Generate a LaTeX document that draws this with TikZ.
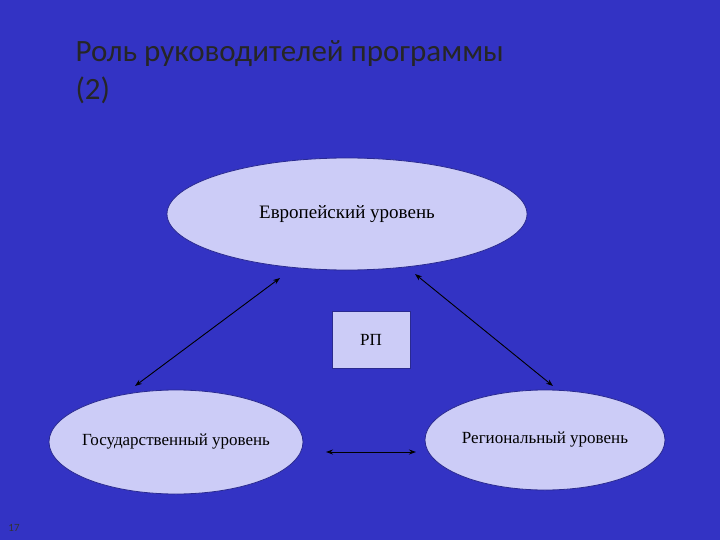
\documentclass[tikz,border=0pt]{standalone}
\usepackage{fontspec}
\setmainfont{Liberation Serif}
\newfontfamily\titlefont{Carlito}
\usetikzlibrary{shapes.geometric,arrows.meta}
\definecolor{bg}{HTML}{3333C4}
\definecolor{ell}{HTML}{CCCCF7}
\definecolor{ellline}{HTML}{2A2A90}
\tikzset{lvl/.style={ellipse,fill=ell,draw=ellline,line width=0.8pt,inner sep=0pt},
 conn/.style={{Stealth[length=7pt,width=5pt]}-{Stealth[length=7pt,width=5pt]},line width=0.9pt,black}}
\begin{document}
\begin{tikzpicture}[x=1pt,y=-1pt]
\fill[bg] (0,0) rectangle (720,540);
\useasboundingbox (0,0) rectangle (720,540);
\node[anchor=west,font=\titlefont\fontsize{31}{38}\selectfont,text=black!85,align=left] (title) at (72,72) {Роль руководителей программы\\(2)};
\node[lvl,minimum width=360pt,minimum height=112pt,font=\fontsize{19}{22}\selectfont] (eu) at (347,214) {Европейский уровень};
\node[lvl,minimum width=254pt,minimum height=104pt,font=\fontsize{17}{20}\selectfont] (st) at (176,442) {};
\node[font=\fontsize{17}{20}\selectfont] (stt) at (176,442) {Государственный уровень};
\node[lvl,minimum width=240pt,minimum height=100pt,font=\fontsize{17}{20}\selectfont] (rg) at (545,440) {};
\node[font=\fontsize{17}{20}\selectfont] (rgt) at (545,440) {Региональный уровень};
\node[fill=ell,draw=ellline,minimum width=78pt,minimum height=57pt,font=\fontsize{17}{20}\selectfont] (rp) at (371,340) {РП};
\coordinate (a1) at (280,278); \coordinate (a2) at (135,386);
\coordinate (b1) at (415,274); \coordinate (b2) at (553,386);
\coordinate (c1) at (326,452); \coordinate (c2) at (416,452);
\draw[conn] (a1) -- (a2);
\draw[conn] (b1) -- (b2);
\draw[conn] (c1) -- (c2);
\node[font=\titlefont\fontsize{11}{13}\selectfont,text=black!80] (num) at (14,528) {17};
\end{tikzpicture}
\end{document}
